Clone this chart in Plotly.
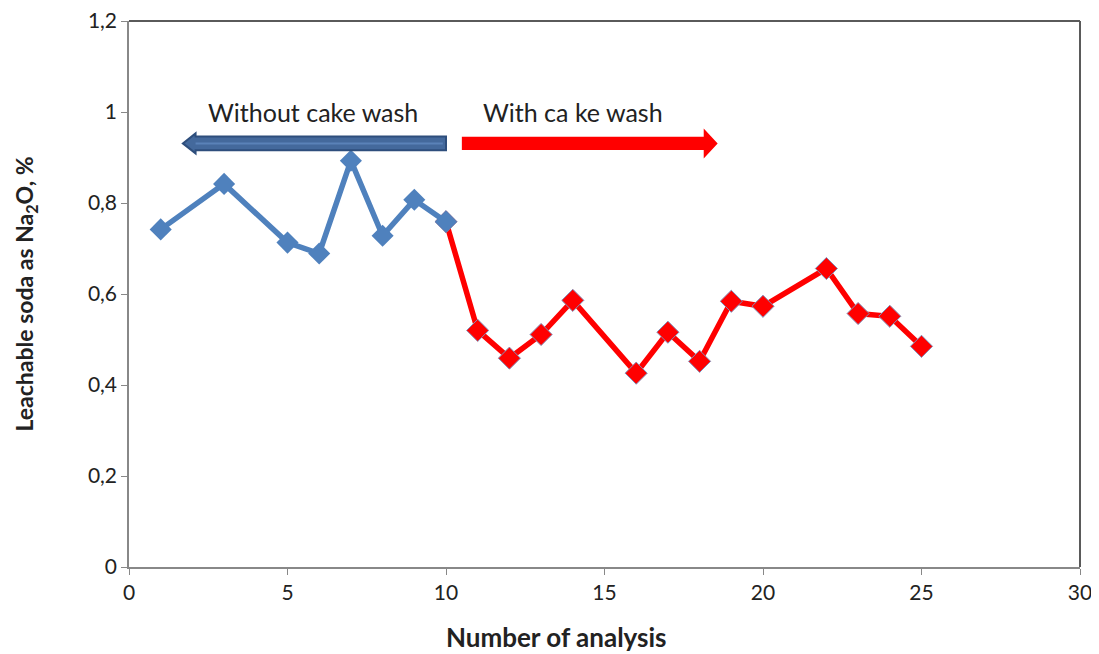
import plotly.graph_objects as go

# Data
x_without = [1, 3, 5, 6, 7, 8, 9, 10]
y_without = [0.742, 0.842, 0.713, 0.689, 0.893, 0.728, 0.807, 0.759]

x_with = [10, 11, 12, 13, 14, 16, 17, 18, 19, 20, 22, 23, 24, 25]
y_with = [0.759, 0.520, 0.459, 0.511, 0.586, 0.426, 0.516, 0.452, 0.584, 0.573, 0.656, 0.557, 0.551, 0.485]

y_tickvals = [0, 0.2, 0.4, 0.6, 0.8, 1.0, 1.2]
y_ticktext = ["0", "0,2", "0,4", "0,6", "0,8", "1", "1,2"]
x_tickvals = [0, 5, 10, 15, 20, 25, 30]

BLUE = "#4F81BD"
RED = "#FF0000"
FONT = "Lato, 'Open Sans', sans-serif"

# Annotation arrows (data units): tail x, head-base x, tip x, centre y, half shaft, half head
ARROW_Y = 0.931
blue_arrow = dict(tail=10.0, base=2.1, tip=1.7, hs=0.015, hh=0.022)
red_arrow = dict(tail=10.5, base=18.13, tip=18.57, hs=0.0145, hh=0.033)


def arrow_path(a, y):
    pts = [(a["tail"], y - a["hs"]), (a["base"], y - a["hs"]), (a["base"], y - a["hh"]),
           (a["tip"], y), (a["base"], y + a["hh"]), (a["base"], y + a["hs"]),
           (a["tail"], y + a["hs"])]
    return "M " + " L ".join(f"{px},{py}" for px, py in pts) + " Z"


fig = go.Figure()
fig.add_trace(go.Scatter(
    x=x_with, y=y_with, mode="lines+markers",
    line=dict(color=RED, width=5.5),
    marker=dict(symbol="diamond", size=17, color=RED, line=dict(color="#7F8FB8", width=1)),
    showlegend=False,
))
fig.add_trace(go.Scatter(
    x=x_without, y=y_without, mode="lines+markers",
    line=dict(color=BLUE, width=5.5),
    marker=dict(symbol="diamond", size=17, color=BLUE),
    showlegend=False,
))

fig.add_shape(type="path", xref="x", yref="y", path=arrow_path(blue_arrow, ARROW_Y),
              fillcolor="#44699C", line=dict(color="#2E4E7C", width=2))
fig.add_shape(type="line", xref="x", yref="y", x0=blue_arrow["tail"] - 0.1, x1=blue_arrow["base"],
              y0=ARROW_Y, y1=ARROW_Y, line=dict(color="#5A82B8", width=2))
fig.add_shape(type="path", xref="x", yref="y", path=arrow_path(red_arrow, ARROW_Y),
              fillcolor=RED, line=dict(color=RED, width=0))

fig.add_annotation(x=5.8, y=1.0, xref="x", yref="y", text="Without cake wash", showarrow=False,
                   font=dict(family=FONT, size=25, color="#222222"))
fig.add_annotation(x=14.0, y=1.0, xref="x", yref="y", text="With ca ke wash", showarrow=False,
                   font=dict(family=FONT, size=25, color="#222222"))

# X axis title (off-centre, as in the reference)
fig.add_annotation(x=0.45, y=-0.128, xref="paper", yref="paper", xanchor="center", yanchor="middle",
                   text="<b>Number of analysis</b>", showarrow=False,
                   font=dict(family=FONT, size=26, color="#222222"))

# Frame top/right
fig.add_shape(type="line", xref="paper", yref="paper", x0=0, y0=1, x1=1, y1=1,
              line=dict(color="#5A5A5A", width=2))
fig.add_shape(type="line", xref="paper", yref="paper", x0=1, y0=0, x1=1, y1=1,
              line=dict(color="#5A5A5A", width=2))

fig.update_layout(
    width=1099, height=654,
    margin=dict(l=121, r=27, t=13, b=95, autoexpand=False),
    paper_bgcolor="white", plot_bgcolor="white",
    font=dict(family=FONT, size=21, color="#222222"),
    xaxis=dict(range=[0, 30], tickvals=x_tickvals, showgrid=False, zeroline=False,
               showline=True, linecolor="#888888", linewidth=1.5,
               ticks="outside", ticklen=6, tickcolor="#888888",
               tickfont=dict(size=21), automargin=False, ticklabeloverflow="allow"),
    yaxis=dict(range=[0, 1.2], tickvals=y_tickvals, ticktext=y_ticktext, showgrid=False,
               zeroline=False, showline=True, linecolor="#888888", linewidth=1.5,
               ticks="outside", ticklen=6, tickcolor="#888888",
               tickfont=dict(size=21), automargin=False, ticklabeloverflow="allow",
               title=dict(text="<b>Leachable soda as Na<sub>2</sub>O, %</b>", font=dict(size=23), standoff=48)),
)

fig.write_html("out.html")
